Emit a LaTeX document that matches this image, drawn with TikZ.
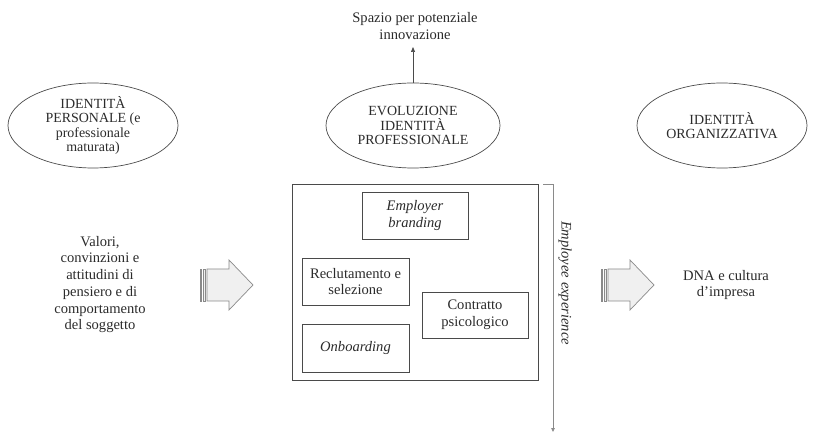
\documentclass[tikz,border=0pt]{standalone}
\usepackage{fontspec}
\setmainfont{Liberation Serif}
\usetikzlibrary{shapes.geometric,arrows.meta}
\definecolor{txt}{HTML}{2B2B2B}
\definecolor{ln}{HTML}{4A4A4A}
\definecolor{arrln}{HTML}{8A8A8A}
\definecolor{arrfill}{HTML}{F0F0F0}
\begin{document}
\begin{tikzpicture}[x=1bp,y=-1bp,
  label/.style={font=\fontsize{14.6}{16.8}\selectfont, text=txt, align=center, inner sep=0pt},
  oval/.style={draw=ln, line width=0.7bp, ellipse, minimum height=85bp, inner sep=0pt,
    align=center, font=\fontsize{14}{14.6}\selectfont, text=txt},
  card/.style={draw=ln, line width=0.8bp, inner sep=0pt, align=center,
    font=\fontsize{14.6}{16.8}\selectfont, text=txt},
  conn/.style={draw=ln, line width=0.7bp},
  stripearrow/.pic={
    \filldraw[fill=arrfill, draw=arrln, line width=0.7bp] (-7,-16) rectangle (-5.2,16);
    \filldraw[fill=arrfill, draw=arrln, line width=0.7bp] (-3.6,-16) rectangle (-1.8,16);
    \filldraw[fill=arrfill, draw=arrln, line width=0.7bp]
      (0,-16) -- (22,-16) -- (22,-25) -- (46,0) -- (22,25) -- (22,16) -- (0,16) -- cycle;
  }]
\useasboundingbox[fill=white] (0,0) rectangle (816,434);

% the three identities
\node[oval, minimum width=170bp] (pers) at (93,125.5)
  {IDENTITÀ\\PERSONALE (e\\professionale\\maturata)};
\node[oval, minimum width=174bp] (evo) at (413,125.5)
  {EVOLUZIONE\\IDENTITÀ\\PROFESSIONALE};
\node[oval, minimum width=170bp] (org) at (722,125.5)
  {IDENTITÀ\\ORGANIZZATIVA};

% innovation above the central identity
\node[label] (spazio) at (415,26) {Spazio per potenziale\\innovazione};
\coordinate (uptip) at (413,47);
\draw[conn, -{Triangle[length=5bp,width=4bp]}] (evo.north) -- (uptip);

% inputs and outputs
\node[label] (valori) at (100,284.5)
  {Valori,\\convinzioni e\\attitudini di\\pensiero e di\\comportamento\\del soggetto};
\node[label] (dna) at (726,285) {DNA e cultura\\d’impresa};
\pic at (207,285) {stripearrow};
\pic at (608,285) {stripearrow};

% HR processes
\node[draw=ln, line width=0.8bp, minimum width=246bp, minimum height=196bp, inner sep=0pt]
  (frame) at (415,282) {};
\node[card, minimum width=106bp, minimum height=47bp] (brand) at (415,215.5)
  {\itshape Employer\\\itshape branding};
\node[card, minimum width=107bp, minimum height=47bp] (recl) at (355.5,281.5)
  {Reclutamento e\\selezione};
\node[card, minimum width=106bp, minimum height=46bp] (contr) at (475,315)
  {Contratto\\psicologico};
\node[card, minimum width=107bp, minimum height=48bp] (onb) at (355.5,348)
  {\itshape Onboarding};

% employee experience timeline
\coordinate (expT) at (543,184);
\coordinate (expC) at (553,184);
\coordinate (expB) at (553,432);
\draw[draw=arrln, line width=0.8bp, -{Triangle[length=4bp,width=3.5bp]}] (expT) -- (expC) -- (expB);
\node[label, rotate=-90, font=\fontsize{14.6}{16.8}\selectfont\itshape] (exp) at (565,283)
  {Employee experience};
\end{tikzpicture}
\end{document}
